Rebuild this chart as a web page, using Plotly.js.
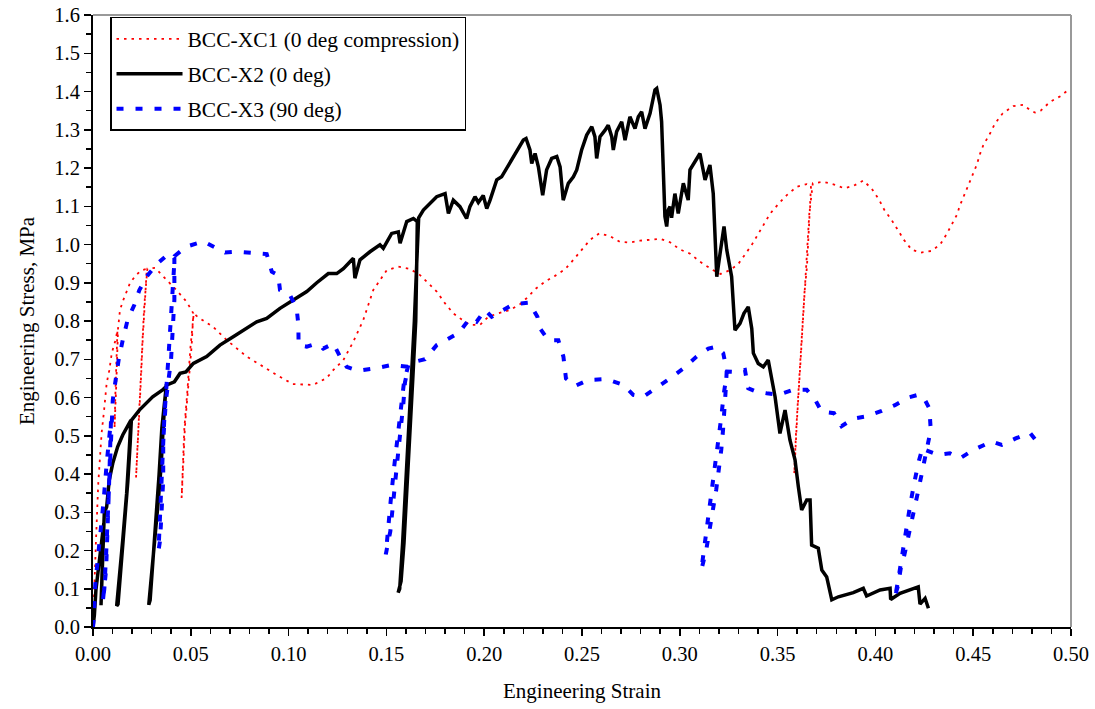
<!DOCTYPE html>
<html>
<head>
<meta charset="utf-8">
<script src="https://cdn.plot.ly/plotly-3.0.1.min.js"></script>
<style>html,body{margin:0;padding:0;background:#fff;}#chart{width:1095px;height:709px;}</style>
</head>
<body>
<div id="chart"></div>
<script>
// ---------- Data ----------
const seriesNames = ["BCC-XC1 (0 deg compression)", "BCC-X2 (0 deg)", "BCC-X3 (90 deg)"];

const xc1Strain = [0,0.0005,0.0015,0.0027,0.0044,0.0056,0.007,0.0083,0.0096,0.0115,0.0125,0.0115,0.011,0.0118,0.0128,0.0138,0.0155,0.0189,0.022,0.0249,0.0275,
  0.0262,0.0254,0.0245,0.0236,0.0228,0.022,0.0226,0.0234,0.0244,0.0253,0.0262,0.0278,
  0.0317,0.0377,0.0428,0.0479,0.0513,
  0.0504,0.0487,0.047,0.0461,0.0453,0.0458,0.0467,0.0483,0.0498,0.0515,
  0.0537,0.0613,0.0684,0.0786,0.0854,0.0939,0.1022,0.1125,0.1195,0.1229,0.128,0.1331,0.1382,0.1433,0.1502,0.1561,0.1621,0.1672,0.1714,0.1757,0.18,0.1842,0.1885,0.1927,0.1979,
  0.2021,0.2072,0.2132,0.2183,0.2226,0.226,0.2311,0.2362,0.2413,0.2456,0.2498,0.2541,0.2588,0.2643,0.2694,0.2745,0.2796,0.2848,0.2899,0.295,0.3001,0.3053,0.3103,0.3163,0.3209,
  0.3257,0.3299,0.3368,0.3427,0.3461,0.3504,0.3547,0.3598,0.3649,0.3671,
  0.3664,0.3659,0.365,0.3637,0.3625,0.3616,0.3604,0.3594,0.3589,0.3585,0.359,0.36,0.3612,0.3625,0.3638,0.3652,0.3662,0.368,
  0.3733,0.3793,0.384,0.3887,0.3938,0.3981,0.402,0.4046,0.4083,0.4117,0.4146,0.4186,0.4233,0.4284,0.433,0.4364,0.439,0.4416,0.4433,0.4453,0.4475,0.4497,0.4518,0.4535,0.4552,
  0.4586,0.4611,0.4651,0.4705,0.4756,0.479,0.4816,0.4845,0.4893,0.4947,0.4995];
const xc1Stress = [0,0.097,0.223,0.376,0.507,0.563,0.638,0.67,0.716,0.75,0.776,0.62,0.52,0.62,0.78,0.829,0.855,0.899,0.92,0.933,0.936,
  0.837,0.75,0.646,0.559,0.471,0.39,0.47,0.56,0.65,0.75,0.84,0.937,
  0.939,0.907,0.88,0.85,0.82,
  0.733,0.62,0.524,0.419,0.337,0.42,0.52,0.62,0.73,0.82,
  0.81,0.785,0.75,0.707,0.685,0.659,0.635,0.633,0.651,0.672,0.698,0.746,0.803,0.881,0.933,0.942,0.936,0.92,0.899,0.877,0.846,0.82,0.804,0.79,0.79,
  0.811,0.82,0.829,0.844,0.864,0.883,0.903,0.918,0.935,0.96,0.986,1.012,1.029,1.022,1.007,1.005,1.01,1.012,1.015,1.006,0.987,0.976,0.955,0.935,0.923,
  0.933,0.949,0.999,1.051,1.08,1.106,1.129,1.151,1.158,1.155,
  1.09,1.02,0.941,0.872,0.759,0.68,0.593,0.506,0.45,0.40,0.45,0.55,0.65,0.76,0.87,0.98,1.08,1.16,
  1.164,1.156,1.147,1.153,1.167,1.146,1.116,1.09,1.064,1.036,1.012,0.986,0.979,0.983,0.999,1.027,1.051,1.077,1.103,1.129,1.156,1.182,1.208,1.237,1.26,
  1.29,1.316,1.343,1.362,1.365,1.352,1.345,1.35,1.373,1.388,1.408];

const x2Strain = [0,0.0007,0.0015,0.0032,0.0055,0.0041,0.0058,0.007,0.0083,0.0101,0.0126,0.0152,0.0194,
  0.0185,0.0172,0.0152,0.0135,0.0121,0.0128,0.0145,0.0162,0.0178,0.019,0.0196,
  0.0237,0.0305,0.0356,0.0373,
  0.0359,0.0348,0.0331,0.0314,0.0297,0.0285,0.0292,0.0307,0.0322,0.0338,0.0352,0.0375,
  0.0416,0.0445,0.0475,0.0513,0.0581,0.0649,0.0717,0.0786,0.0837,0.0888,0.0956,0.1024,0.1093,0.1144,0.1203,0.1246,0.128,0.1331,0.1339,0.1365,0.1416,0.1467,0.1484,0.1527,0.1561,0.157,0.1604,0.1638,0.1658,
  0.1655,0.165,0.1635,0.162,0.1605,0.159,0.1575,0.156,0.1568,0.1583,0.1598,0.1613,0.1628,0.1643,0.1655,0.1665,
  0.1689,0.1723,0.1757,0.18,0.1817,0.1842,0.1876,0.191,0.1927,0.1953,0.197,0.1995,0.2013,0.203,0.2064,0.2089,0.2115,0.2141,0.2166,0.22,0.2214,0.2234,0.2243,0.226,0.2277,0.2299,
  0.2319,0.2345,0.2371,0.2388,0.2404,0.243,0.2456,0.2473,0.2498,0.2524,0.255,0.2566,0.2575,0.2592,0.2618,0.2634,0.2652,0.266,0.2677,0.2703,0.272,0.2745,0.2771,0.2788,0.2805,
  0.2822,0.2848,0.2873,0.2882,0.289,0.2899,0.2907,0.2916,0.2924,0.2933,0.2941,0.295,0.2958,0.2975,0.2992,0.3018,0.3043,0.3052,0.3086,0.3103,0.3129,0.3154,0.3171,0.318,0.3189,
  0.3206,0.3226,0.324,0.3265,0.3282,0.3308,0.3328,0.335,0.3368,0.3376,0.3401,0.3427,0.3452,0.347,0.3487,0.3512,0.3538,0.3563,0.3589,0.3606,0.3623,0.3649,0.3666,0.3674,0.3708,
  0.3726,0.3751,0.3777,0.3811,0.3887,0.3938,0.3955,0.4024,0.4075,0.4078,0.4126,0.4219,0.4228,0.4254,0.4271];
const x2Stress = [0,0.031,0.097,0.175,0.27,0.057,0.30,0.314,0.384,0.428,0.471,0.502,0.541,
  0.46,0.35,0.227,0.14,0.055,0.06,0.16,0.26,0.38,0.48,0.54,
  0.567,0.602,0.62,0.628,
  0.524,0.419,0.314,0.21,0.114,0.058,0.07,0.17,0.28,0.40,0.52,0.632,
  0.641,0.663,0.667,0.689,0.707,0.737,0.759,0.781,0.798,0.807,0.833,0.855,0.877,0.9,0.924,0.924,0.937,0.964,0.912,0.96,0.981,0.999,0.99,1.029,1.033,1.003,1.06,1.068,1.06,
  0.95,0.8,0.65,0.5,0.35,0.22,0.12,0.09,0.10,0.22,0.36,0.5,0.65,0.8,0.95,1.07,
  1.09,1.107,1.125,1.133,1.081,1.116,1.099,1.068,1.099,1.125,1.11,1.128,1.094,1.116,1.169,1.177,1.199,1.225,1.242,1.273,1.277,1.247,1.212,1.238,1.203,1.129,
  1.195,1.225,1.23,1.203,1.116,1.16,1.177,1.195,1.247,1.286,1.308,1.282,1.225,1.282,1.299,1.312,1.282,1.247,1.295,1.321,1.273,1.334,1.303,1.334,1.347,
  1.303,1.343,1.404,1.408,1.39,1.365,1.321,1.169,1.073,1.047,1.09,1.099,1.07,1.133,1.081,1.16,1.116,1.195,1.221,1.238,1.169,1.208,1.133,1.012,0.916,
  0.977,1.047,0.986,0.916,0.776,0.794,0.82,0.837,0.78,0.716,0.689,0.68,0.698,0.646,0.602,0.506,0.567,0.489,0.437,0.367,0.306,0.332,0.332,0.214,0.206,
  0.149,0.131,0.071,0.079,0.09,0.101,0.081,0.097,0.101,0.072,0.088,0.105,0.06,0.075,0.049];

const x3Strain = [0,0.0002,0.0012,0.0032,0.0041,0.0053,0.007,0.0083,0.0092,
  0.0082,0.0074,0.0067,0.005,0.0058,0.0068,0.0078,0.0088,0.0095,
  0.0101,0.0118,0.0131,0.0152,0.0177,0.0211,0.0237,0.028,0.0331,0.039,0.0416,
  0.0416,0.0404,0.0399,0.0373,0.0359,0.0359,0.0353,0.0343,0.0335,0.034,0.0348,0.0356,0.0365,0.0385,0.0405,0.0418,
  0.0475,0.0564,0.0632,0.0675,0.0735,0.0806,0.0888,0.0914,0.0947,0.0956,0.1007,0.1041,0.105,0.1051,0.1093,0.1144,0.1177,0.1229,0.1263,0.1297,0.1356,0.1442,0.1527,0.1612,
  0.1595,0.1587,0.1574,0.1567,0.1553,0.1535,0.152,0.1497,0.1505,0.1522,0.154,0.1558,0.1575,0.159,0.1615,
  0.1697,0.1757,0.1817,0.1868,0.1927,0.1961,0.2004,0.2038,0.2081,0.2149,0.2231,0.2272,0.2285,0.2328,0.2379,0.2405,0.2418,0.2464,0.2532,0.2626,0.2711,0.2762,0.2813,0.289,0.295,
  0.3018,0.3086,0.3146,0.3189,0.3222,0.324,
  0.3236,0.3229,0.3221,0.3212,0.3203,0.3186,0.3169,0.3152,0.3135,0.311,0.3118,0.3135,0.315,0.3165,0.318,0.3195,0.321,0.3225,0.3242,
  0.3282,0.3333,0.335,0.3393,0.3444,0.3504,0.358,0.3649,0.3691,0.3725,0.3788,0.3827,0.3887,0.3947,0.4032,0.41,0.4168,0.4219,0.4245,0.4276,0.4283,
  0.4273,0.4257,0.4233,0.4216,0.419,0.4173,0.4148,0.4131,0.4114,0.4097,0.4105,0.4122,0.414,0.4158,0.4178,0.42,0.422,0.4242,0.4254,
  0.4322,0.4381,0.4433,0.4501,0.4595,0.4646,0.4717,0.479,0.4833];
const x3Stress = [0,0.01,0.114,0.21,0.271,0.323,0.428,0.488,0.541,
  0.37,0.254,0.15,0.065,0.10,0.2,0.32,0.45,0.56,
  0.593,0.654,0.698,0.75,0.803,0.842,0.881,0.92,0.951,0.977,0.965,
  0.855,0.75,0.698,0.593,0.488,0.384,0.323,0.227,0.2,0.25,0.35,0.45,0.55,0.70,0.85,0.97,
  0.994,1.008,0.99,0.979,0.981,0.979,0.975,0.929,0.92,0.881,0.868,0.833,0.79,0.737,0.733,0.741,0.728,0.741,0.707,0.68,0.67,0.676,0.685,0.68,
  0.64,0.586,0.533,0.489,0.42,0.33,0.25,0.19,0.24,0.33,0.42,0.5,0.58,0.64,0.69,
  0.7,0.737,0.755,0.768,0.807,0.798,0.829,0.811,0.824,0.844,0.848,0.811,0.781,0.75,0.75,0.707,0.65,0.63,0.646,0.648,0.633,0.607,0.602,0.628,0.65,
  0.676,0.707,0.728,0.733,0.716,0.672,
  0.63,0.567,0.515,0.463,0.419,0.358,0.306,0.254,0.201,0.149,0.18,0.24,0.29,0.35,0.41,0.47,0.54,0.61,0.668,
  0.667,0.672,0.624,0.615,0.611,0.607,0.62,0.62,0.595,0.563,0.559,0.525,0.545,0.55,0.565,0.58,0.6,0.607,0.602,0.571,0.515,
  0.489,0.445,0.393,0.349,0.288,0.245,0.188,0.157,0.105,0.075,0.09,0.14,0.2,0.26,0.32,0.38,0.43,0.47,0.463,
  0.45,0.454,0.441,0.463,0.485,0.476,0.493,0.508,0.48];

const xTickVals = [0,0.05,0.10,0.15,0.20,0.25,0.30,0.35,0.40,0.45,0.50];
const yTickVals = [0,0.1,0.2,0.3,0.4,0.5,0.6,0.7,0.8,0.9,1.0,1.1,1.2,1.3,1.4,1.5,1.6];

// ---------- Chart ----------
const FONT = "'Liberation Serif', 'Times New Roman', serif";

const traces = [
  {x: xc1Strain, y: xc1Stress, name: seriesNames[0], mode: 'lines', legendgroup: 'a',
   line: {color: '#ff0000', width: 1.8, dash: '2.5px,5px'}},
  {x: x2Strain, y: x2Stress, name: seriesNames[1], mode: 'lines', legendgroup: 'b',
   line: {color: '#000000', width: 3.5}},
  {x: x3Strain, y: x3Stress, name: seriesNames[2], mode: 'lines', legendgroup: 'c',
   line: {color: '#0000ff', width: 4, dash: '7px,12px'}}
];

const layout = {
  width: 1095, height: 709,
  margin: {l: 93, r: 24, t: 15, b: 82},
  paper_bgcolor: '#fff', plot_bgcolor: '#fff',
  font: {family: FONT, color: '#000', size: 20},
  showlegend: true,
  legend: {
    x: 0.0174, y: 0.997, xanchor: 'left', yanchor: 'top',
    bgcolor: '#fff', bordercolor: '#000', borderwidth: 1.5,
    font: {family: FONT, size: 21.5, color: '#000'},
    traceorder: 'grouped', tracegroupgap: 4, itemwidth: 66
  },
  xaxis: {
    range: [0, 0.5], tickvals: xTickVals, tickformat: '.2f',
    ticks: 'outside', ticklen: 7, tickwidth: 1.5, tickcolor: '#000',
    minor: {dtick: 0.01, ticks: 'outside', ticklen: 5, tickwidth: 1.5, tickcolor: '#000'},
    showline: true, linecolor: '#000', linewidth: 2, showgrid: false, zeroline: false,
    tickfont: {family: FONT, size: 20.5, color: '#000'},
    title: {text: 'Engineering Strain', font: {family: FONT, size: 21, color: '#000'}, standoff: 20}
  },
  yaxis: {
    range: [0, 1.6], tickvals: yTickVals, tickformat: '.1f',
    ticks: 'outside', ticklen: 7, tickwidth: 1.5, tickcolor: '#000',
    minor: {dtick: 0.05, ticks: 'outside', ticklen: 5, tickwidth: 1.5, tickcolor: '#000'},
    showline: true, linecolor: '#000', linewidth: 2, showgrid: false, zeroline: false,
    tickfont: {family: FONT, size: 20.5, color: '#000'},
    title: {text: 'Engineering Stress, MPa', font: {family: FONT, size: 21, color: '#000'}, standoff: 14}
  },
  shapes: [
    {type: 'line', xref: 'paper', yref: 'paper', x0: 0, x1: 1, y0: 1, y1: 1, line: {color: '#999', width: 2}},
    {type: 'line', xref: 'paper', yref: 'paper', x0: 1, x1: 1, y0: 0, y1: 1, line: {color: '#999', width: 2}}
  ]
};

Plotly.newPlot('chart', traces, layout, {displayModeBar: false, staticPlot: true});
</script>
</body>
</html>
